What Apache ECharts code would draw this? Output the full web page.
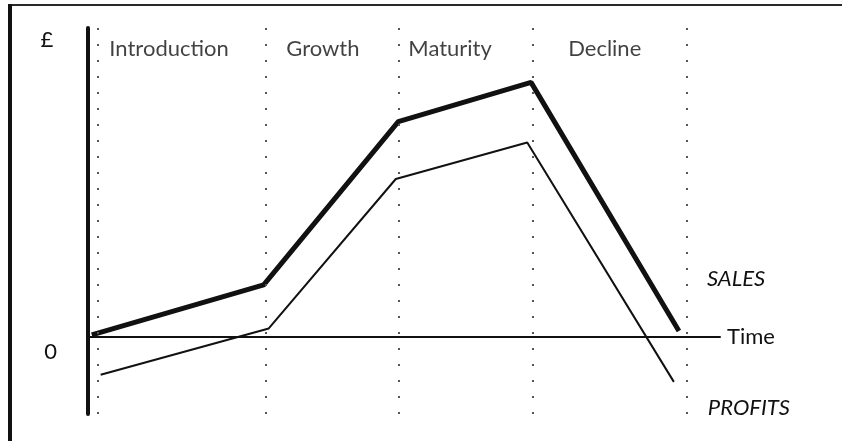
<!DOCTYPE html>
<html>
<head>
<meta charset="utf-8">
<script src="https://cdn.jsdelivr.net/npm/echarts@6/dist/echarts.min.js"></script>
<style>
html,body{margin:0;padding:0;background:#fff;}
#wrap{position:relative;width:842px;height:441px;overflow:hidden;}
#chart{position:absolute;left:0;top:0;width:842px;height:441px;}
#bt{position:absolute;left:8px;top:4px;width:834px;height:0;border-top:2px solid #2a2a2a;}
#bl{position:absolute;left:8px;top:4px;width:0;height:437px;border-left:4px solid #111;}
</style>
</head>
<body>
<div id="wrap"><div id="chart"></div><div id="bt"></div><div id="bl"></div></div>
<script>
// Stage boundaries (time units) and stage names
const stageNames = ['Introduction', 'Growth', 'Maturity', 'Decline'];
const stageLabelX = [3.3, 31.3, 50.6, 75.9];
const stageLabelY = 93.3;
const boundaries = [1.6, 28.2, 49.2, 70.3, 94.8];

// Sales curve (time, value)
const salesX = [0.6, 27.8, 49.1, 70.1, 93.5];
const salesY = [0.6, 16.8, 69.7, 82.4, 1.9];

// Profits curve (time, value)
const profitsX = [2.0, 28.6, 48.7, 69.5, 92.7];
const profitsY = [-12.3, 2.7, 51.1, 62.9, -14.6];

const FONT = 'Lato';
const FS = 22;
const chart = echarts.init(document.getElementById('chart'), null, {renderer: 'canvas'});

const pairs = (xs, ys) => xs.map((x, i) => [x, ys[i]]);

chart.setOption({
  animation: false,
  grid: {left: 88, right: 122, top: 28, bottom: 27},
  xAxis: {
    type: 'value', min: 0, max: 100,
    name: 'Time', nameLocation: 'end', nameGap: 7,
    nameTextStyle: {fontFamily: FONT, fontSize: FS, color: '#111', verticalAlign: 'middle', padding: [0, 0, 14, 0]},
    axisLine: {show: true, onZero: true, lineStyle: {color: '#111', width: 2}},
    axisTick: {show: false}, axisLabel: {show: false}, splitLine: {show: false}
  },
  yAxis: {
    type: 'value', min: -25, max: 100, interval: 25,
    axisLine: {show: true, lineStyle: {color: '#111', width: 4}},
    axisTick: {show: false}, splitLine: {show: false},
    axisLabel: {
      show: true, margin: 31, fontFamily: FONT, fontSize: FS, color: '#111',
      formatter: v => (v === 0 ? '0' : ''),
      verticalAlign: 'top', padding: [4, 0, 0, 0]
    },
    name: '£', nameLocation: 'end', nameGap: -12,
    nameTextStyle: {fontFamily: FONT, fontSize: FS, color: '#111', align: 'center', verticalAlign: 'middle', padding: [0, 82, 0, 0]}
  },
  series: [
    {
      type: 'line', name: 'SALES', data: pairs(salesX, salesY),
      symbol: 'none', lineStyle: {color: '#111', width: 5},
      endLabel: {show: true, formatter: 'SALES', fontFamily: FONT, fontStyle: 'italic', fontSize: FS, color: '#111', offset: [20, -52]},
      markLine: {
        silent: true, symbol: 'none', label: {show: false},
        lineStyle: {color: '#555', type: [2, 14], width: 2},
        data: boundaries.map(b => ({xAxis: b}))
      },
      z: 3
    },
    {
      type: 'line', name: 'PROFITS', data: pairs(profitsX, profitsY),
      symbol: 'none', lineStyle: {color: '#111', width: 2},
      endLabel: {show: true, formatter: 'PROFITS', fontFamily: FONT, fontStyle: 'italic', fontSize: FS, color: '#111', offset: [26, 26]},
      z: 3
    },
    {
      type: 'scatter', data: stageLabelX.map((x, i) => ({value: [x, stageLabelY], name: stageNames[i]})),
      symbolSize: 1, itemStyle: {color: 'rgba(0,0,0,0)'},
      label: {show: true, position: 'right', distance: 0, formatter: p => p.name, fontFamily: FONT, fontSize: FS, color: '#111'}
    }
  ]
});
</script>
</body>
</html>
